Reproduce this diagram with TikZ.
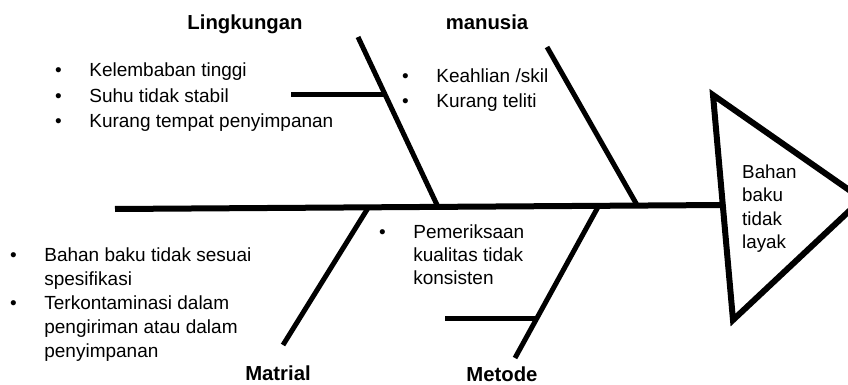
\documentclass[tikz,border=0pt]{standalone}
\usepackage{fontspec}
\setmainfont{Liberation Sans}
\usepackage{tikz}

\newcommand{\blt}{\textbullet}

\begin{document}
\begin{tikzpicture}[x=1pt, y=-1pt,
	bone/.style={line width=5pt},
	cause/.style={font=\bfseries\fontsize{20.3}{24}\selectfont, anchor=base, inner sep=0pt},
	items/.style={anchor=base west, inner sep=0pt}]
\useasboundingbox (0,0) rectangle (848,385);
% head of the fish
\coordinate (h1) at (713,95);
\coordinate (h2) at (733,320);
\coordinate (h3) at (862,199);
\draw[line width=6pt, line join=miter] (h1) -- (h3) -- (h2) -- cycle;
\node[items, font=\fontsize{18.8}{23.5}\selectfont] (head) at (742,178)
	{\begin{tabular}[t]{@{}l@{}}Bahan\\ baku\\ tidak\\ layak\end{tabular}};
% spine
\coordinate (spineL) at (115,209);
\coordinate (spineR) at (724,205);
\draw[line width=6pt] (spineL) -- (spineR);
% bones
\coordinate (ling1) at (358,37);  \coordinate (ling2) at (438,207);
\coordinate (man1) at (547,47);   \coordinate (man2) at (637,205);
\coordinate (mat1) at (368,208);  \coordinate (mat2) at (283,345);
\coordinate (met1) at (598,207);  \coordinate (met2) at (515,358);
\coordinate (lingS1) at (291,95); \coordinate (lingS2) at (386,95);
\coordinate (metS1) at (445,318); \coordinate (metS2) at (537,318);
\draw[bone] (ling1) -- (ling2);
\draw[bone] (man1) -- (man2);
\draw[bone] (mat1) -- (mat2);
\draw[bone] (met1) -- (met2);
\draw[bone] (lingS1) -- (lingS2);
\draw[bone] (metS1) -- (metS2);
% causes
\node[cause] (ling) at (245,30) {Lingkungan};
\node[cause] (man) at (487,30) {manusia};
\node[cause] (mat) at (278,380) {Matrial};
\node[cause] (met) at (502,381) {Metode};
% lists
\node[items, font=\fontsize{19}{25.5}\selectfont] (lingList) at (55,77)
	{\begin{tabular}[t]{@{}l@{\hspace{27.5pt}}l@{}}
	\blt & Kelembaban tinggi\\
	\blt & Suhu tidak stabil\\
	\blt & Kurang tempat penyimpanan
	\end{tabular}};
\node[items, font=\fontsize{19}{25}\selectfont] (manList) at (402,83)
	{\begin{tabular}[t]{@{}l@{\hspace{27.5pt}}l@{}}
	\blt & Keahlian /skil\\
	\blt & Kurang teliti
	\end{tabular}};
\node[items, font=\fontsize{19}{24}\selectfont] (matList) at (10,261)
	{\begin{tabular}[t]{@{}l@{\hspace{27.5pt}}l@{}}
	\blt & Bahan baku tidak sesuai\\
	     & spesifikasi\\
	\blt & Terkontaminasi dalam\\
	     & pengiriman atau dalam\\
	     & penyimpanan
	\end{tabular}};
\node[items, font=\fontsize{19}{23}\selectfont] (metList) at (379,238)
	{\begin{tabular}[t]{@{}l@{\hspace{27.5pt}}l@{}}
	\blt & Pemeriksaan\\
	     & kualitas tidak\\
	     & konsisten
	\end{tabular}};
\end{tikzpicture}
\end{document}
